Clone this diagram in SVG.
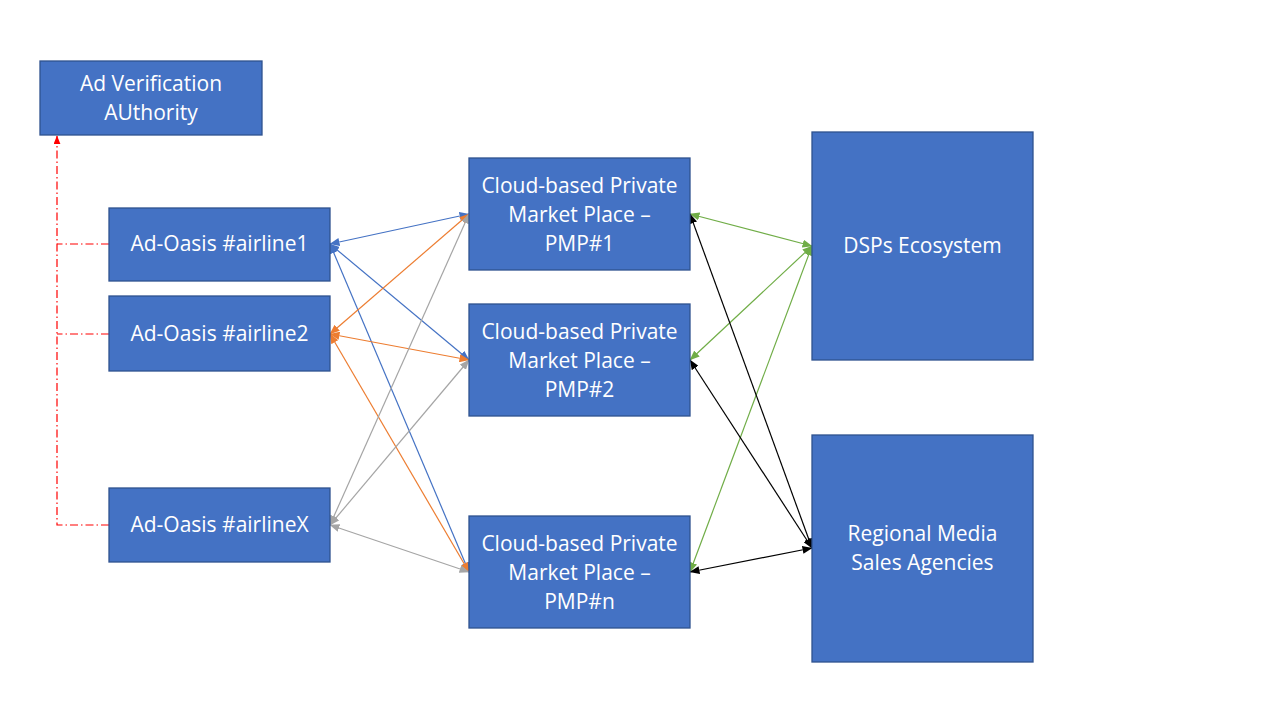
<svg xmlns="http://www.w3.org/2000/svg" width="1280" height="720" viewBox="0 0 1280 720">
<style>
.box{fill:#4472C4;stroke:#2F528F;stroke-width:1.3}
.t{fill:#fff;font-family:"Open Sans","Noto Sans","Liberation Sans",sans-serif;font-size:21px;text-anchor:middle}
.c{fill:none;stroke-width:1.2}
</style>
<defs>
<marker id="mb" viewBox="0 0 10 8" refX="9.5" refY="4" markerWidth="10" markerHeight="8" markerUnits="userSpaceOnUse" orient="auto-start-reverse"><path d="M0,0L10,4L0,8z" fill="#4472C4"/></marker>
<marker id="mo" viewBox="0 0 10 8" refX="9.5" refY="4" markerWidth="10" markerHeight="8" markerUnits="userSpaceOnUse" orient="auto-start-reverse"><path d="M0,0L10,4L0,8z" fill="#ED7D31"/></marker>
<marker id="mg" viewBox="0 0 10 8" refX="9.5" refY="4" markerWidth="10" markerHeight="8" markerUnits="userSpaceOnUse" orient="auto-start-reverse"><path d="M0,0L10,4L0,8z" fill="#A5A5A5"/></marker>
<marker id="mn" viewBox="0 0 10 8" refX="9.5" refY="4" markerWidth="10" markerHeight="8" markerUnits="userSpaceOnUse" orient="auto-start-reverse"><path d="M0,0L10,4L0,8z" fill="#70AD47"/></marker>
<marker id="mk" viewBox="0 0 10 8" refX="9.5" refY="4" markerWidth="10" markerHeight="8" markerUnits="userSpaceOnUse" orient="auto-start-reverse"><path d="M0,0L10,4L0,8z" fill="#000"/></marker>
<marker id="mr" viewBox="0 0 10 8" refX="9.5" refY="4" markerWidth="9" markerHeight="7" markerUnits="userSpaceOnUse" orient="auto"><path d="M0,0L10,4L0,8z" fill="#FF0000"/></marker>
</defs>
<rect width="1280" height="720" fill="#fff"/>
<g id="connectors">
<g stroke="#FF0000" stroke-width="1.2" fill="none" stroke-dasharray="8,3,1.5,3">
<path d="M109,244H57"/>
<path d="M109,334H57"/>
<path d="M109,525H57V136" marker-end="url(#mr)"/>
</g>
<g class="c" stroke="#4472C4">
<path d="M330,244L469,214" marker-start="url(#mb)" marker-end="url(#mb)"/>
<path d="M330,244L469,360" marker-start="url(#mb)" marker-end="url(#mb)"/>
<path d="M330,244L469,572" marker-start="url(#mb)" marker-end="url(#mb)"/>
</g>
<g class="c" stroke="#ED7D31">
<path d="M330,334L469,214" marker-start="url(#mo)" marker-end="url(#mo)"/>
<path d="M330,334L469,360" marker-start="url(#mo)" marker-end="url(#mo)"/>
<path d="M330,334L469,572" marker-start="url(#mo)" marker-end="url(#mo)"/>
</g>
<g class="c" stroke="#A5A5A5">
<path d="M330,525L469,214" marker-start="url(#mg)" marker-end="url(#mg)"/>
<path d="M330,525L469,360" marker-start="url(#mg)" marker-end="url(#mg)"/>
<path d="M330,525L469,572" marker-start="url(#mg)" marker-end="url(#mg)"/>
</g>
<g class="c" stroke="#70AD47">
<path d="M690,214L812,246" marker-start="url(#mn)" marker-end="url(#mn)"/>
<path d="M690,360L812,246" marker-start="url(#mn)" marker-end="url(#mn)"/>
<path d="M690,572L812,246" marker-start="url(#mn)" marker-end="url(#mn)"/>
</g>
<g class="c" stroke="#000">
<path d="M690,214L812,548" marker-start="url(#mk)" marker-end="url(#mk)"/>
<path d="M690,360L812,548" marker-start="url(#mk)" marker-end="url(#mk)"/>
<path d="M690,572L812,548" marker-start="url(#mk)" marker-end="url(#mk)"/>
</g>
</g>
<g id="ava"><rect class="box" x="40" y="61" width="222" height="74"/><text class="t" x="151" y="91">Ad Verification</text><text class="t" x="151" y="120">AUthority</text></g>
<g id="airline1"><rect class="box" x="109" y="208" width="221" height="73"/><text class="t" x="219.5" y="251">Ad-Oasis #airline1</text></g>
<g id="airline2"><rect class="box" x="109" y="296" width="221" height="75"/><text class="t" x="219.5" y="341">Ad-Oasis #airline2</text></g>
<g id="airlineX"><rect class="box" x="109" y="488" width="221" height="74"/><text class="t" x="219.5" y="532">Ad-Oasis #airlineX</text></g>
<g id="pmp1"><rect class="box" x="469" y="158" width="221" height="112"/><text class="t" x="579.5" y="193">Cloud-based Private</text><text class="t" x="579.5" y="222">Market Place –</text><text class="t" x="579.5" y="251">PMP#1</text></g>
<g id="pmp2"><rect class="box" x="469" y="304" width="221" height="112"/><text class="t" x="579.5" y="339">Cloud-based Private</text><text class="t" x="579.5" y="368">Market Place –</text><text class="t" x="579.5" y="397">PMP#2</text></g>
<g id="pmpn"><rect class="box" x="469" y="516" width="221" height="112"/><text class="t" x="579.5" y="551">Cloud-based Private</text><text class="t" x="579.5" y="580">Market Place –</text><text class="t" x="579.5" y="609">PMP#n</text></g>
<g id="dsps"><rect class="box" x="812" y="132" width="221" height="228"/><text class="t" x="922.5" y="253">DSPs Ecosystem</text></g>
<g id="regional"><rect class="box" x="812" y="435" width="221" height="227"/><text class="t" x="922.5" y="541">Regional Media</text><text class="t" x="922.5" y="570">Sales Agencies</text></g>
</svg>
